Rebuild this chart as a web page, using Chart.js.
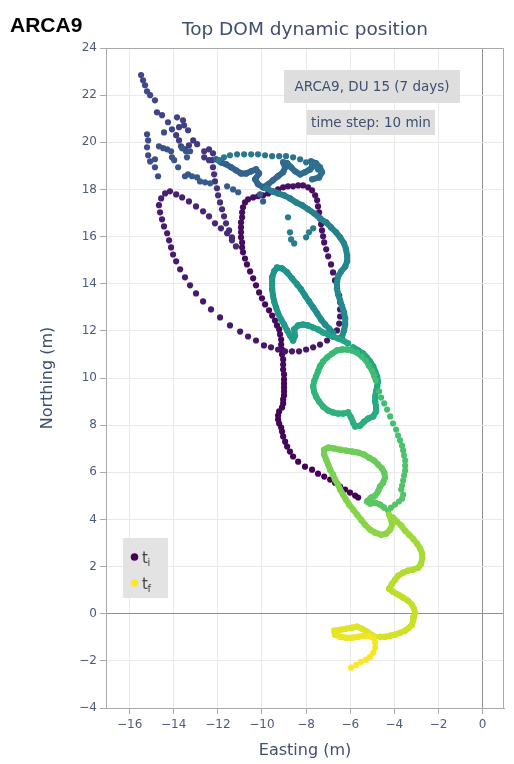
<!DOCTYPE html>
<html>
<head>
<meta charset="utf-8">
<script src="https://cdn.jsdelivr.net/npm/chart.js@4.4.1/dist/chart.umd.min.js"></script>
<style>
  html, body { margin: 0; padding: 0; background: #ffffff; }
  canvas { display: block; }
</style>
</head>
<body>
<canvas id="track" width="514" height="764"></canvas>
<script>
// Top DOM position of ARCA9 DU 15 over 7 days, one sample every 10 minutes.
// Each stretch is [easting, northing] in metres, listed in time order.
const climbFromStart = [[-5.64,4.93],[-5.78,5.01],[-6.01,5.14],[-6.23,5.27],[-6.46,5.39],[-6.69,5.56],[-6.91,5.69],[-7.18,5.82],[-7.46,5.94],[-7.73,6.11],[-8.05,6.24],[-8.36,6.45],[-8.59,6.67],[-8.73,6.88],[-8.86,7.09],[-8.95,7.30],[-9.04,7.52],[-9.09,7.73],[-9.13,7.90],[-9.22,8.07],[-9.27,8.24],[-9.27,8.41],[-9.22,8.58],[-9.09,8.75],[-9.04,8.92],[-9.04,9.09],[-9.00,9.26],[-9.00,9.43],[-9.00,9.60],[-9.00,9.77]];
const driftNorthwest = [[-9.00,9.94],[-9.00,10.15],[-9.04,10.36],[-9.04,10.57],[-9.04,10.79],[-9.09,11.00],[-9.09,11.21],[-9.13,11.42],[-9.13,11.63],[-9.18,11.85],[-9.22,12.06],[-9.32,12.23],[-9.41,12.44],[-9.54,12.65],[-9.68,12.87],[-9.86,13.12],[-10.00,13.38],[-10.13,13.63],[-10.27,13.93],[-10.40,14.23],[-10.54,14.52],[-10.68,14.82],[-10.77,15.07],[-10.86,15.33]];
const northLeg = [[-10.90,15.54],[-10.90,15.75],[-10.95,15.97],[-10.95,16.18],[-10.95,16.39],[-10.95,16.60],[-10.90,16.82],[-10.90,17.03],[-10.86,17.24],[-10.77,17.45],[-10.63,17.58],[-10.40,17.66],[-10.18,17.71],[-9.95,17.75],[-9.72,17.83],[-9.50,17.92],[-9.27,18.00],[-9.04,18.09],[-8.82,18.13],[-8.59,18.13],[-8.36,18.17],[-8.14,18.17],[-7.91,18.09],[-7.73,17.96]];
const eastLegSouth = [[-7.59,17.75],[-7.50,17.54],[-7.46,17.28],[-7.41,17.03],[-7.37,16.77],[-7.32,16.52],[-7.28,16.26],[-7.23,16.01],[-7.18,15.75],[-7.09,15.46],[-7.00,15.16],[-6.87,14.82],[-6.78,14.48],[-6.69,14.14],[-6.60,13.80],[-6.50,13.50],[-6.46,13.21],[-6.46,12.91],[-6.46,12.61],[-6.50,12.31],[-6.60,12.02],[-6.78,11.76],[-7.05,11.59],[-7.37,11.42],[-7.68,11.30],[-8.00,11.21],[-8.32,11.13],[-8.64,11.13],[-8.95,11.13]];
const westArc = [[-9.27,11.21],[-9.59,11.30],[-9.91,11.38],[-10.27,11.59],[-10.63,11.76],[-10.99,11.97],[-11.45,12.23],[-11.90,12.57],[-12.31,12.91],[-12.67,13.25],[-12.99,13.59],[-13.26,13.93],[-13.49,14.27],[-13.71,14.61],[-13.89,14.95],[-14.03,15.24],[-14.12,15.54],[-14.21,15.84],[-14.30,16.14],[-14.44,16.43],[-14.53,16.73],[-14.62,17.03],[-14.67,17.33],[-14.57,17.62],[-14.39,17.83],[-14.17,17.92]];
const returnSoutheast = [[-13.89,17.79],[-13.62,17.66],[-13.31,17.49],[-12.99,17.28],[-12.67,17.07],[-12.40,16.86],[-12.13,16.56],[-11.86,16.35],[-11.58,16.14],[-11.36,15.84],[-11.18,15.58]];
const loopNorth = [[-11.36,15.97],[-11.49,16.26],[-11.63,16.56],[-11.72,16.86],[-11.81,17.16],[-11.90,17.45],[-11.99,17.75],[-12.04,18.05],[-12.13,18.34],[-12.17,18.64],[-12.22,18.94],[-12.26,19.24],[-12.22,19.53],[-12.40,19.70],[-12.62,19.62],[-12.62,19.36],[-12.40,19.24]];
const northwestScatter = [[-12.94,19.92],[-13.12,20.08],[-13.31,19.87],[-13.49,19.70],[-13.67,19.83],[-13.76,20.08],[-13.89,20.30],[-13.76,20.64],[-13.53,20.72],[-13.35,20.51],[-13.58,20.93],[-13.85,21.06],[-14.08,20.55],[-14.26,20.85],[-14.53,21.15],[-14.76,21.27],[-14.85,21.78],[-15.07,22.00],[-15.21,22.16],[-15.30,22.42],[-15.39,22.63],[-15.48,22.85],[-14.44,20.42],[-15.21,20.34],[-15.16,20.08],[-15.21,19.79],[-15.16,19.45],[-15.07,19.19],[-14.85,19.28],[-14.85,18.94],[-14.71,18.56],[-14.67,19.83],[-14.48,19.75],[-14.30,19.70],[-14.12,19.62],[-14.08,19.36],[-13.98,19.24],[-13.80,18.94],[-13.62,19.75],[-13.44,19.62],[-13.26,19.62],[-13.40,19.36],[-13.35,18.64],[-13.49,18.56],[-13.17,18.56],[-12.94,18.51],[-12.81,18.34],[-12.58,18.30],[-12.35,18.26],[-11.58,18.13],[-11.31,18.00],[-11.08,17.88],[-10.09,17.79],[-9.95,17.49]];
const eastZigzag = [[-12.08,19.28],[-11.86,19.15],[-11.63,19.07],[-11.40,18.94],[-11.18,18.81],[-10.95,18.68],[-10.72,18.68],[-10.49,18.77],[-10.27,18.85],[-10.13,18.68],[-10.31,18.43],[-10.18,18.22],[-9.95,18.09],[-9.72,18.22],[-9.50,18.39],[-9.27,18.56],[-9.04,18.73],[-8.95,18.94],[-9.04,19.15],[-8.86,19.11],[-8.68,18.94],[-8.50,18.77],[-8.27,18.64],[-8.05,18.73],[-7.82,18.85],[-7.64,19.02],[-7.78,19.19],[-7.55,19.11],[-7.37,18.94],[-7.28,18.73],[-7.41,18.51],[-7.73,18.43]];
const northArc = [[-7.46,18.85],[-7.73,19.02],[-8.00,19.15],[-8.27,19.28],[-8.59,19.36],[-8.91,19.41],[-9.22,19.41],[-9.54,19.41],[-9.86,19.45],[-10.18,19.49],[-10.49,19.49],[-10.81,19.49],[-11.13,19.49],[-11.45,19.45],[-11.72,19.36],[-11.95,19.24]];
const tealDots = [[-8.82,16.82],[-8.73,16.18],[-8.68,15.88],[-8.54,15.71],[-8.00,15.97],[-7.87,16.18],[-7.68,16.35]];
const eastLine = [[-9.81,18.05],[-9.54,17.92],[-9.27,17.83],[-9.00,17.75],[-8.73,17.62],[-8.45,17.45],[-8.18,17.33],[-7.91,17.16],[-7.64,16.99],[-7.37,16.77],[-7.09,16.60],[-6.87,16.39],[-6.64,16.18],[-6.46,15.97],[-6.28,15.71],[-6.19,15.46],[-6.14,15.20],[-6.14,14.95],[-6.23,14.73],[-6.41,14.52],[-6.55,14.31],[-6.60,14.06],[-6.60,13.80],[-6.55,13.55],[-6.46,13.29],[-6.37,13.04],[-6.28,12.78],[-6.23,12.53],[-6.23,12.27],[-6.28,12.02],[-6.37,11.76]];
const tealLoop = [[-6.78,11.93],[-6.96,12.10],[-7.14,12.27],[-7.32,12.48],[-7.50,12.74],[-7.68,12.99],[-7.87,13.25],[-8.05,13.50],[-8.23,13.76],[-8.41,13.97],[-8.64,14.23],[-8.86,14.48],[-9.09,14.65],[-9.32,14.69],[-9.45,14.52],[-9.54,14.27],[-9.54,14.01],[-9.54,13.76],[-9.50,13.50],[-9.45,13.25],[-9.36,12.99],[-9.27,12.74],[-9.13,12.48],[-9.00,12.27],[-8.86,12.02],[-8.73,11.80],[-8.59,11.59],[-8.50,11.80],[-8.54,12.06],[-8.36,12.23],[-8.14,12.27],[-7.91,12.23],[-7.68,12.14],[-7.46,12.06],[-7.23,11.93],[-7.00,11.85],[-6.78,11.76],[-6.55,11.68],[-6.32,11.59],[-6.10,11.47]];
const greenBlob = [[-5.87,11.30],[-5.64,11.17],[-5.42,11.04],[-5.24,10.87],[-5.10,10.70],[-4.96,10.49],[-4.87,10.28],[-4.78,10.06],[-4.74,9.85],[-4.78,9.64],[-4.83,9.43],[-4.87,9.21],[-4.87,9.00],[-4.83,8.79],[-4.83,8.58],[-4.96,8.37],[-5.19,8.28],[-5.37,8.15],[-5.55,7.98],[-5.78,7.94],[-5.87,8.11],[-5.96,8.32],[-6.10,8.54],[-6.32,8.49],[-6.55,8.49],[-6.78,8.54],[-7.00,8.62],[-7.23,8.79],[-7.41,9.00],[-7.55,9.21],[-7.64,9.43],[-7.68,9.64],[-7.64,9.85],[-7.55,10.06],[-7.46,10.28],[-7.37,10.49],[-7.23,10.70],[-7.05,10.87],[-6.82,11.04],[-6.60,11.17],[-6.37,11.21],[-6.14,11.21],[-5.92,11.17],[-5.69,11.08],[-5.46,10.91],[-5.28,10.74],[-5.15,10.53],[-5.01,10.32],[-4.92,10.11],[-4.83,9.89]];
const eastColumn = [[-4.69,9.43],[-4.60,9.17],[-4.46,8.92],[-4.33,8.66],[-4.19,8.37],[-4.06,8.07],[-3.92,7.81],[-3.83,7.56],[-3.74,7.35],[-3.65,7.13],[-3.60,6.92],[-3.56,6.71],[-3.51,6.50],[-3.51,6.28],[-3.51,6.07],[-3.56,5.86],[-3.60,5.65],[-3.65,5.44],[-3.69,5.27],[-3.60,5.05],[-3.65,4.88],[-3.79,4.76],[-3.97,4.63],[-4.15,4.50],[-4.28,4.37]];
const limeLoop = [[-4.46,4.50],[-4.65,4.63],[-4.87,4.71],[-5.10,4.67],[-5.24,4.76],[-5.05,4.93],[-4.87,5.01],[-4.74,5.18],[-4.65,5.39],[-4.51,5.56],[-4.42,5.78],[-4.46,5.99],[-4.56,6.16],[-4.74,6.33],[-4.92,6.50],[-5.15,6.62],[-5.37,6.75],[-5.64,6.84],[-5.92,6.88],[-6.19,6.92],[-6.46,6.96],[-6.73,7.01],[-7.00,7.05],[-7.18,6.96],[-7.18,6.75],[-7.09,6.54],[-7.00,6.33],[-6.91,6.11],[-6.78,5.90],[-6.69,5.69],[-6.55,5.48],[-6.46,5.27],[-6.32,5.05],[-6.19,4.84],[-6.05,4.63],[-5.87,4.42],[-5.69,4.20],[-5.51,3.99],[-5.33,3.78],[-5.10,3.57],[-4.87,3.44],[-4.60,3.35],[-4.37,3.40],[-4.19,3.57],[-4.10,3.78],[-4.15,3.99],[-4.24,4.20]];
const southDescent = [[-4.06,4.08],[-3.88,3.91],[-3.69,3.74],[-3.51,3.52],[-3.33,3.35],[-3.15,3.18],[-2.97,2.97],[-2.83,2.76],[-2.74,2.55],[-2.74,2.34],[-2.79,2.12],[-2.92,1.95],[-3.15,1.87],[-3.38,1.83],[-3.60,1.74],[-3.83,1.61],[-3.97,1.44],[-4.10,1.27],[-4.24,1.06],[-4.06,0.93],[-3.83,0.81],[-3.60,0.68],[-3.38,0.55],[-3.20,0.38],[-3.11,0.21],[-3.06,0.04],[-3.11,-0.13],[-3.15,-0.30],[-3.20,-0.47],[-3.33,-0.59],[-3.51,-0.72],[-3.74,-0.81],[-3.97,-0.89],[-4.19,-0.93],[-4.42,-0.98],[-4.65,-0.98]];
const finalCurl = [[-4.87,-0.98],[-5.05,-0.89],[-5.24,-0.76],[-5.46,-0.64],[-5.69,-0.55],[-5.92,-0.59],[-6.19,-0.64],[-6.46,-0.68],[-6.73,-0.72],[-6.69,-0.89],[-6.46,-0.98],[-6.19,-1.02],[-5.92,-1.02],[-5.64,-0.98],[-5.37,-0.93],[-5.15,-0.93],[-4.96,-1.02]];
const finalTail = [[-4.87,-1.23],[-4.87,-1.44],[-4.96,-1.66],[-5.10,-1.83],[-5.28,-1.95],[-5.51,-2.04],[-5.73,-2.17],[-5.96,-2.29]];

// Stretches in time order, the day each one starts, and whether the
// module drifted slowly enough there for the samples to merge into a trail.
const stretches = [climbFromStart, driftNorthwest, northLeg, eastLegSouth, westArc, returnSoutheast, loopNorth, northwestScatter, eastZigzag, northArc, tealDots, eastLine, tealLoop, greenBlob, eastColumn, limeLoop, southDescent, finalCurl, finalTail];
const stretchStartDay = [0.00, 0.12, 0.22, 0.32, 0.45, 0.60, 0.85, 1.15, 2.10, 2.60, 2.85, 2.95, 3.35, 4.10, 4.85, 5.15, 5.90, 6.60, 6.90];
const slowStretch = [false, false, false, false, false, false, false, false, true, false, false, true, true, true, false, true, true, true, false];
const totalDays = 7;

const xTicks = [-16, -14, -12, -10, -8, -6, -4, -2, 0];
const yTicks = [-4, -2, 0, 2, 4, 6, 8, 10, 12, 14, 16, 18, 20, 22, 24];

const VIRIDIS = ['#440154','#482475','#414487','#355f8d','#2a788e','#21918c','#22a884','#44bf70','#7ad151','#bddf26','#fde725'];
function hexRgb(h) { return [1, 3, 5].map(i => parseInt(h.slice(i, i + 2), 16)); }
function viridis(t) {
  t = Math.max(0, Math.min(1, t));
  const s = t * (VIRIDIS.length - 1);
  const i = Math.min(VIRIDIS.length - 2, Math.floor(s));
  const f = s - i;
  const a = hexRgb(VIRIDIS[i]), b = hexRgb(VIRIDIS[i + 1]);
  const c = a.map((v, k) => Math.round(v + (b[k] - v) * f));
  return 'rgb(' + c.join(',') + ')';
}

const FONT = '"DejaVu Sans", Verdana, sans-serif';
const INK = '#3f4f70';
const TICK_INK = '#4b5b7b';

const datasets = stretches.map((pts, k) => {
  const d0 = stretchStartDay[k];
  const d1 = k + 1 < stretchStartDay.length ? stretchStartDay[k + 1] : totalDays;
  const colors = pts.map((p, j) => viridis((d0 + (d1 - d0) * (pts.length > 1 ? j / (pts.length - 1) : 0)) / totalDays));
  return {
    data: pts.map(p => ({ x: p[0], y: p[1] })),
    showLine: slowStretch[k],
    borderWidth: 6,
    borderCapStyle: 'round',
    borderJoinStyle: 'round',
    segment: { borderColor: ctx => colors[ctx.p0DataIndex] },
    borderColor: colors[0],
    pointBackgroundColor: colors,
    pointBorderWidth: 0,
    pointRadius: 3.1,
    pointHoverRadius: 3.1,
    order: stretches.length - k
  };
});

const fmtTick = v => (v < 0 ? '\u2212' + Math.abs(v) : String(v));

const decorations = {
  id: 'decorations',
  beforeDatasetsDraw(chart) {
    const { ctx, chartArea: a } = chart;
    ctx.save();
    ctx.strokeStyle = '#a9a9a9';
    ctx.lineWidth = 1;
    ctx.beginPath();
    ctx.moveTo(a.left, a.top + 0.5);
    ctx.lineTo(a.right - 0.5, a.top + 0.5);
    ctx.lineTo(a.right - 0.5, a.bottom);
    ctx.stroke();
    ctx.restore();
  },
  afterDraw(chart) {
    const { ctx, chartArea: a } = chart;
    ctx.save();
    // figure label and plot title
    ctx.fillStyle = '#000000';
    ctx.font = 'bold 21px "Liberation Sans", Arial, sans-serif';
    ctx.textAlign = 'left';
    ctx.textBaseline = 'alphabetic';
    ctx.fillText('ARCA9', 10, 32);
    ctx.fillStyle = INK;
    ctx.font = '18.5px ' + FONT;
    ctx.textAlign = 'center';
    ctx.fillText('Top DOM dynamic position', (a.left + a.right) / 2, 35);

    // annotation boxes
    const box = (text, cx, cy, w, h) => {
      ctx.fillStyle = '#dedede';
      ctx.fillRect(cx - w / 2, cy - h / 2, w, h);
      ctx.fillStyle = INK;
      ctx.font = '13.5px ' + FONT;
      ctx.textAlign = 'center';
      ctx.textBaseline = 'middle';
      ctx.fillText(text, cx, cy + 1);
    };
    box('ARCA9, DU 15 (7 days)', 372, 86.5, 176, 33);
    box('time step: 10 min', 371, 122.5, 128, 25);

    // legend: first and last sample
    ctx.fillStyle = '#e3e3e3';
    ctx.fillRect(123, 538, 45, 60);
    const entry = (color, sub, y) => {
      ctx.fillStyle = color;
      ctx.beginPath();
      ctx.arc(134.5, y, 3.8, 0, Math.PI * 2);
      ctx.fill();
      ctx.fillStyle = '#444444';
      ctx.textAlign = 'left';
      ctx.textBaseline = 'alphabetic';
      ctx.font = '15px ' + FONT;
      ctx.fillText('t', 142, y + 6);
      ctx.font = '10px ' + FONT;
      ctx.fillText(sub, 147.5, y + 9);
    };
    entry(VIRIDIS[0], 'i', 557);
    entry(VIRIDIS[VIRIDIS.length - 1], 'f', 583);
    ctx.restore();
  }
};

new Chart(document.getElementById('track'), {
  type: 'scatter',
  data: { datasets },
  options: {
    responsive: false,
    animation: false,
    devicePixelRatio: 1,
    layout: { padding: { top: 48, right: 10, bottom: 0, left: 0 } },
    plugins: { legend: { display: false }, tooltip: { enabled: false }, title: { display: false } },
    scales: {
      x: {
        type: 'linear',
        min: -17.07,
        max: 0.97,
        afterFit: s => { s.height = 56; },
        afterBuildTicks: s => { s.ticks = xTicks.map(v => ({ value: v })); },
        ticks: { font: { family: FONT, size: 12 }, color: TICK_INK, padding: 4, maxRotation: 0, autoSkip: false, callback: fmtTick },
        grid: { color: c => (c.tick && c.tick.value === 0 ? '#8f8f8f' : '#e9e9e9'), lineWidth: 1, drawTicks: true, tickLength: 6, tickColor: '#a9a9a9' },
        border: { display: true, color: '#a9a9a9', width: 1 },
        title: { display: true, text: 'Easting (m)', font: { family: FONT, size: 16 }, color: INK, padding: { top: 0, bottom: 4 } }
      },
      y: {
        type: 'linear',
        min: -4,
        max: 24,
        afterFit: s => { s.width = 106; },
        afterBuildTicks: s => { s.ticks = yTicks.map(v => ({ value: v })); },
        ticks: { font: { family: FONT, size: 12 }, color: TICK_INK, padding: 3, autoSkip: false, callback: fmtTick },
        grid: { color: c => (c.tick && c.tick.value === 0 ? '#8f8f8f' : '#e9e9e9'), lineWidth: 1, drawTicks: true, tickLength: 6, tickColor: '#a9a9a9' },
        border: { display: true, color: '#a9a9a9', width: 1 },
        title: { display: true, text: 'Northing (m)', font: { family: FONT, size: 16 }, color: INK, padding: { top: 38, bottom: 0 } }
      }
    }
  },
  plugins: [decorations]
});
</script>
</body>
</html>
